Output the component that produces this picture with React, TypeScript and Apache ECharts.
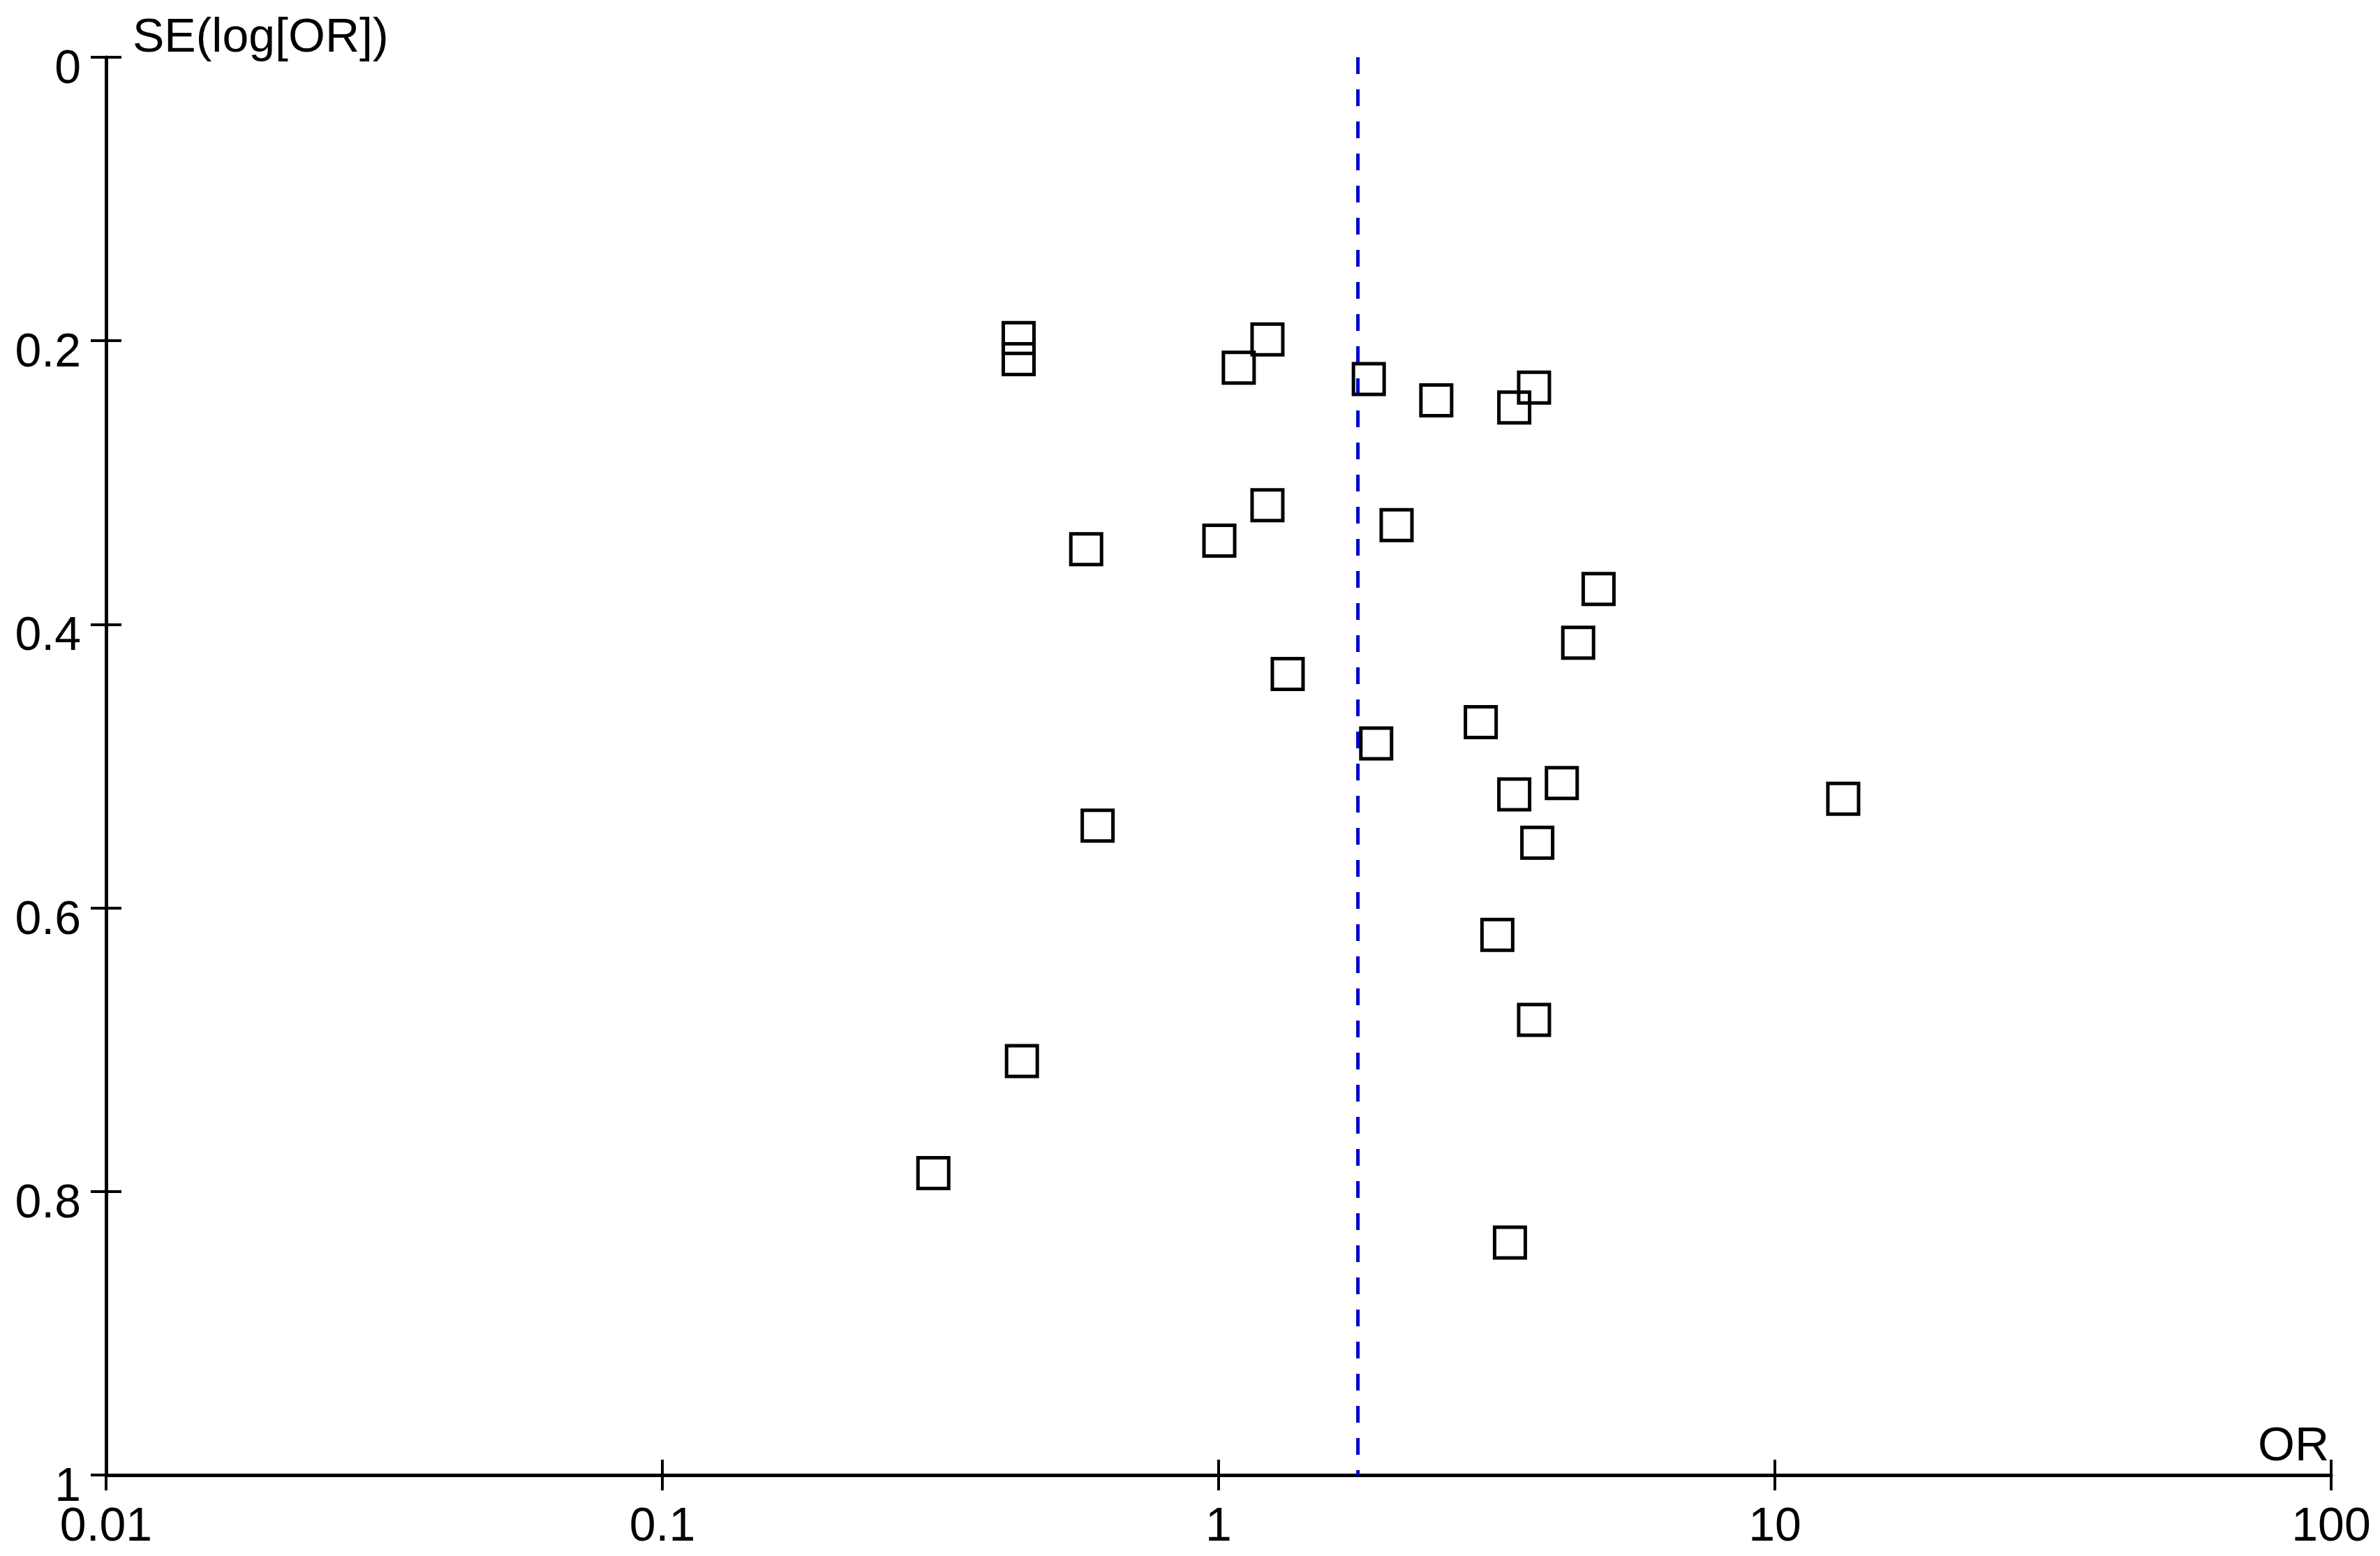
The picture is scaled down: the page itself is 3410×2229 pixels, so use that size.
import React, { useEffect, useRef } from "react";
import * as echarts from "echarts";

// Odds ratios (x, log scale) and standard errors of log(OR) (y) for each study
const orValues = [
  0.437, 0.437, 1.224, 1.087, 1.862, 2.462, 3.69, 3.4, 0.578, 1.003, 1.224, 2.089,
  4.82, 4.43, 1.331, 2.96, 1.92, 4.14, 3.4, 13.27, 0.606, 3.74, 3.17, 3.69, 0.443,
  0.307, 3.34,
];
const seValues = [
  0.198, 0.213, 0.199, 0.219, 0.227, 0.242, 0.233, 0.247, 0.347, 0.341, 0.316, 0.33,
  0.375, 0.413, 0.435, 0.469, 0.484, 0.512, 0.52, 0.523, 0.542, 0.554, 0.619, 0.679,
  0.708, 0.787, 0.836,
];
const pooledOR = [1.78];
const seRange = [0, 1];

const xTickValues = [0.01, 0.1, 1, 10, 100];
const xTickLabels = ["0.01", "0.1", "1", "10", "100"];
const yTickValues = [0, 0.2, 0.4, 0.6, 0.8, 1];
const yTickLabels = ["0", "0.2", "0.4", "0.6", "0.8", "1"];
const yTitle = "SE(log[OR])";
const xTitle = "OR";

export default function App() {
  const ref = useRef<HTMLDivElement>(null);

  useEffect(() => {
    if (!ref.current) return;
    const chart = echarts.init(ref.current, null, { renderer: "svg" });
    const font = "Liberation Sans, Arial, sans-serif";
    const fs = 68;

    const xFmt = (v: number) => {
      const i = xTickValues.findIndex((t) => Math.abs(Math.log10(t) - Math.log10(v)) < 1e-6);
      return i >= 0 ? xTickLabels[i] : "";
    };
    const yFmt = (v: number) => {
      const i = yTickValues.findIndex((t) => Math.abs(t - v) < 1e-6);
      return i >= 0 ? yTickLabels[i] : "";
    };

    const points = orValues.map((v, i) => [v, seValues[i]]);
    const lineData = seRange.map((s) => [pooledOR[0], s]);

    const xBase = {
      type: "log",
      logBase: 10,
      min: xTickValues[0],
      max: xTickValues[xTickValues.length - 1],
      position: "bottom",
      splitLine: { show: false },
      minorTick: { show: false },
    };
    const yBase = {
      type: "value",
      inverse: true,
      min: yTickValues[0],
      max: yTickValues[yTickValues.length - 1],
      interval: 0.2,
      position: "left",
      splitLine: { show: false },
    };

    chart.setOption({
      animation: false,
      backgroundColor: "#ffffff",
      grid: { left: 152, top: 82, width: 3188, height: 2031, containLabel: false },
      xAxis: [
        {
          ...xBase,
          axisLine: { show: true, onZero: false, lineStyle: { color: "#000", width: 5 } },
          axisTick: { show: true, inside: false, length: 22, lineStyle: { color: "#000", width: 4 } },
          axisLabel: {
            show: true,
            margin: 70,
            verticalAlign: "middle",
            color: "#000",
            fontSize: fs,
            fontFamily: font,
            formatter: xFmt,
          },
        },
        {
          ...xBase,
          axisLine: { show: false, onZero: false },
          axisTick: { show: true, inside: true, length: 22, lineStyle: { color: "#000", width: 4 } },
          axisLabel: { show: false },
        },
      ],
      yAxis: [
        {
          ...yBase,
          axisLine: { show: true, onZero: false, lineStyle: { color: "#000", width: 5 } },
          axisTick: { show: true, inside: false, length: 22, lineStyle: { color: "#000", width: 4 } },
          axisLabel: {
            show: true,
            margin: 36,
            verticalAlign: "top",
            lineHeight: 26,
            color: "#000",
            fontSize: fs,
            fontFamily: font,
            formatter: yFmt,
          },
        },
        {
          ...yBase,
          axisLine: { show: false, onZero: false },
          axisTick: { show: true, inside: true, length: 22, lineStyle: { color: "#000", width: 4 } },
          axisLabel: { show: false },
        },
      ],
      series: [
        {
          type: "line",
          xAxisIndex: 0,
          yAxisIndex: 0,
          data: lineData,
          showSymbol: false,
          symbol: "none",
          z: 2,
          lineStyle: { color: "#0000CD", width: 5, type: [24, 22] },
          silent: true,
        },
        {
          type: "scatter",
          xAxisIndex: 0,
          yAxisIndex: 0,
          data: points,
          symbol: "rect",
          symbolSize: 44,
          z: 3,
          itemStyle: { color: "rgba(0,0,0,0)", borderColor: "#000", borderWidth: 5, opacity: 1 },
        },
      ],
      graphic: [
        {
          type: "text",
          x: 190,
          y: 50,
          style: {
            text: yTitle,
            fill: "#000",
            font: `${fs}px ${font}`,
            textAlign: "left",
            textVerticalAlign: "middle",
          },
        },
        {
          type: "text",
          x: 3337,
          y: 2068,
          style: {
            text: xTitle,
            fill: "#000",
            font: `${fs}px ${font}`,
            textAlign: "right",
            textVerticalAlign: "middle",
          },
        },
      ],
    });

    return () => chart.dispose();
  }, []);

  return (
    <div
      ref={ref}
      style={{ position: "absolute", left: 0, top: 0, width: 3410, height: 2229, background: "#fff" }}
    />
  );
}
